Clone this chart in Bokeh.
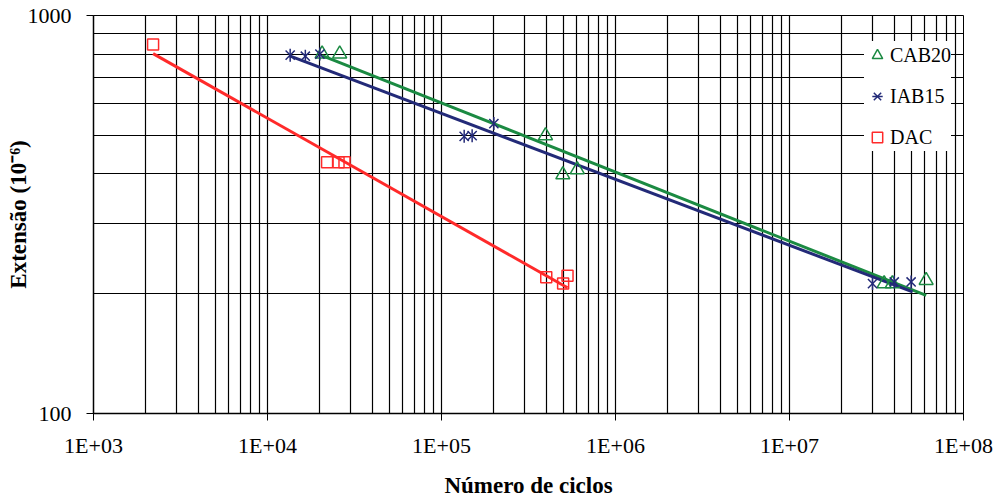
import math
from bokeh.plotting import figure
from bokeh.models import Range1d, FixedTicker, Legend, LegendItem
from bokeh.embed import file_html
from bokeh.resources import INLINE

# ---- data ----
cab_x = [2.06e4, 2.6e4, 3.96e5, 4.98e5, 6.03e5, 3.5e7, 3.9e7, 6.1e7]
cab_y = [801, 801, 499, 398, 410, 212, 212, 216]

iab_x = [1.35e4, 1.65e4, 2.0e4, 1.35e5, 1.5e5, 2.0e5, 3.0e7, 4.0e7, 5.0e7]
iab_y = [795, 790, 800, 497, 499, 535, 212, 214, 214]

dac_x = [2.2e3, 2.2e4, 2.56e4, 2.77e4, 4.0e5, 5.0e5, 5.3e5]
dac_y = [845, 428, 428, 428, 220, 212, 222]

# trend lines (end points)
cab_fit_x = [2.06e4, 6.1e7]
cab_fit_y = [793, 198]
iab_fit_x = [1.33e4, 5.1e7]
iab_fit_y = [793, 202]
dac_fit_x = [2.2e3, 5.3e5]
dac_fit_y = [802, 207]

x_ticks = [1e3, 1e4, 1e5, 1e6, 1e7, 1e8]
x_tick_labels = ["1E+03", "1E+04", "1E+05", "1E+06", "1E+07", "1E+08"]
y_ticks = [100, 1000]
y_tick_labels = ["100", "1000"]
legend_labels = ["CAB20", "IAB15", "DAC"]

x_label = "Número de ciclos"
y_label = "Extensão (10⁻⁶)"

GREEN = "#1B8A42"
NAVY = "#232A78"
RED = "#FF2A2A"
FONT = "Liberation Serif"

p = figure(width=995, height=500, x_axis_type="log", y_axis_type="log",
           x_range=Range1d(1e3, 1e8), y_range=Range1d(100, 1000),
           output_backend="svg", toolbar_location=None,
           min_border_left=93, min_border_right=32, min_border_top=15,
           min_border_bottom=87)
p.background_fill_color = "white"
p.border_fill_color = "white"
p.outline_line_color = "black"
p.outline_line_width = 1

x_minor = [m * d for d in x_ticks[:-1] for m in range(2, 10)]
y_minor = [m * 100 for m in range(2, 10)]
p.xaxis.ticker = FixedTicker(ticks=x_ticks, minor_ticks=x_minor)
p.yaxis.ticker = FixedTicker(ticks=y_ticks, minor_ticks=y_minor)
p.xaxis.major_label_overrides = {t: l for t, l in zip(x_ticks, x_tick_labels)}
p.yaxis.major_label_overrides = {t: l for t, l in zip(y_ticks, y_tick_labels)}

for ax in (p.xaxis, p.yaxis):
    ax.axis_line_color = "black"
    ax.axis_line_width = 1.5
    ax.major_tick_line_color = "black"
    ax.major_tick_in = 0
    ax.major_tick_out = 7
    ax.minor_tick_line_color = None
    ax.major_label_text_font = FONT
    ax.major_label_text_font_size = "22px"
    ax.major_label_text_color = "black"
    ax.axis_label_text_font = FONT
    ax.axis_label_text_font_size = "23px"
    ax.axis_label_text_font_style = "bold"
    ax.axis_label_text_color = "black"

p.xaxis.axis_label = x_label
p.yaxis.axis_label = y_label
p.xaxis.major_label_standoff = 12
p.xaxis.axis_label_standoff = 12
p.yaxis.major_label_standoff = 15
p.yaxis.axis_label_standoff = -6

for g in (p.xgrid, p.ygrid):
    g.grid_line_color = "black"
    g.grid_line_width = 1.2
    g.minor_grid_line_color = "black"
    g.minor_grid_line_width = 1.2

# trend lines
p.line(cab_fit_x, cab_fit_y, line_color=GREEN, line_width=3)
p.line(iab_fit_x, iab_fit_y, line_color=NAVY, line_width=3)
p.line(dac_fit_x, dac_fit_y, line_color=RED, line_width=3)

# markers
r_cab = p.scatter(cab_x, cab_y, marker="triangle", size=14, fill_color=None,
                  line_color=GREEN, line_width=1.5)
r_iab_x = p.scatter(iab_x, iab_y, marker="x", size=13,
                    line_color=NAVY, line_width=1.5)
r_iab_v = p.scatter(iab_x, iab_y, marker="dash", size=13, angle=math.pi / 2,
                    line_color=NAVY, line_width=1.5)
r_dac = p.scatter(dac_x, dac_y, marker="square", size=11, fill_color=None,
                  line_color=RED, line_width=1.5)

legend = Legend(items=[LegendItem(label=legend_labels[0], renderers=[r_cab]),
                       LegendItem(label=legend_labels[1], renderers=[r_iab_x, r_iab_v]),
                       LegendItem(label=legend_labels[2], renderers=[r_dac])],
                location=(771, 262))
legend.border_line_color = None
legend.background_fill_color = "white"
legend.background_fill_alpha = 1
legend.label_text_font = FONT
legend.label_text_font_size = "20px"
legend.label_text_color = "black"
legend.glyph_width = 26
legend.glyph_height = 28
legend.label_height = 28
legend.spacing = 13
legend.padding = 8
legend.margin = 0
legend.label_standoff = 0
p.add_layout(legend)

open("out.html", "w").write(file_html(p, INLINE))
